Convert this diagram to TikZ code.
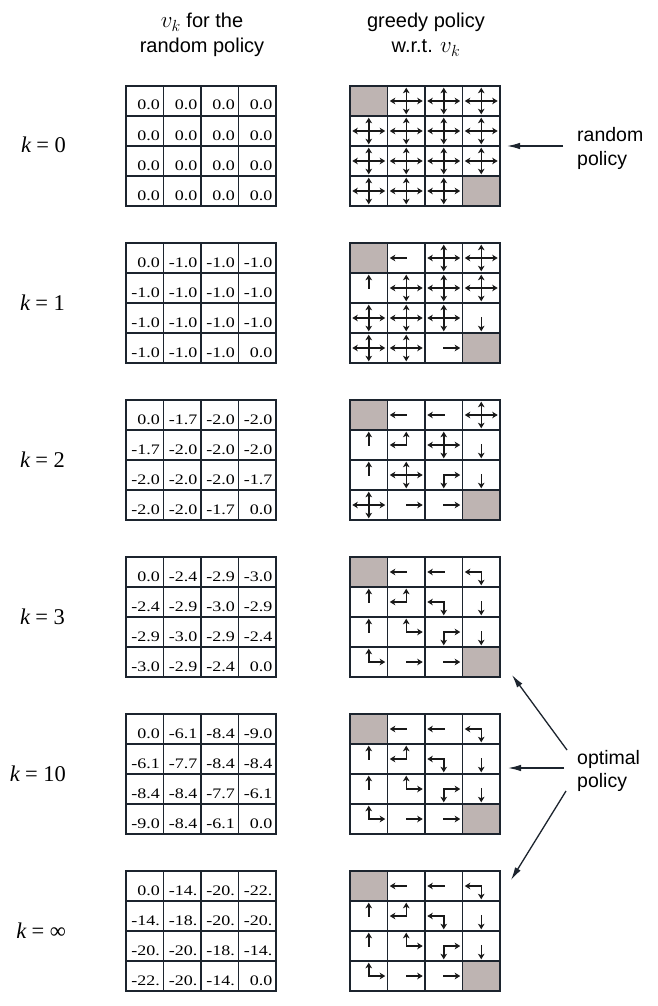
\documentclass[tikz,border=0pt]{standalone}
\usepackage{fix-cm}
\usepackage{fontspec}
\setmainfont{Liberation Serif}
\newfontfamily\numfont[FakeStretch=1.24]{Liberation Serif}
\newfontfamily\sansf{Liberation Sans}
\usetikzlibrary{arrows.meta}
\definecolor{gl}{RGB}{28,36,46}
\definecolor{term}{RGB}{190,180,178}
\newcommand\vk{{\fontsize{23}{26}\selectfont$v_k$}}
\tikzset{
  gridline/.style={draw=gl, line width=1.3pt},
  num/.style={font=\numfont\fontsize{14.5}{15}\selectfont, anchor=base east, inner sep=0pt, text=black},
  pa/.style={draw=black!90, line width=1.5pt, line cap=rect, -{Stealth[length=5.5pt,width=6.5pt,inset=1.5pt]}},
  bigarrow/.style={draw=gl, line width=1.3pt, -{Latex[length=13pt,width=6.5pt]}},
  hdr/.style={font=\sansf\fontsize{20}{24}\selectfont, anchor=base, inner sep=0pt},
  side/.style={font=\sansf\fontsize{19.5}{22}\selectfont, anchor=base west, inner sep=0pt},
  klab/.style={font=\fontsize{22.5}{26}\selectfont, anchor=base east, inner sep=0pt},
}
% value grid: #1 top, #2 name, #3-#6 rows
\newcommand\vgrid[6]{%
  \draw[gridline] (126,#1) rectangle ++(150,120);
  \foreach \i in {1,2,3}{%
    \draw[gridline] ({126+37.5*\i},#1) -- ++(0,120);
    \draw[gridline] (126,{#1+30*\i}) -- ++(150,0);}
  \foreach \rowv [count=\r from 0] in {{#3},{#4},{#5},{#6}}{%
    \foreach \v [count=\c] in \rowv {%
      \node[num] (#2-\r-\c) at ({122.5+37.5*\c},{#1+24+30*\r}) {\v};}}
}
% policy grid frame
\newcommand\pgrid[1]{%
  \fill[term] (350,#1) rectangle ++(37.5,30);
  \fill[term] (462.5,{#1+90}) rectangle ++(37.5,30);
  \draw[gridline] (350,#1) rectangle ++(150,120);
  \foreach \i in {1,2,3}{%
    \draw[gridline] ({350+37.5*\i},#1) -- ++(0,120);
    \draw[gridline] (350,{#1+30*\i}) -- ++(150,0);}
}
\newcommand\crosses[2]{%
  \foreach \r/\c in {#2}{%
    \pgfmathsetmacro\cx{368.75+37.5*\c}\pgfmathsetmacro\cy{#1+15+30*\r}%
    \draw[pa] (\cx,\cy) -- ++(-16.5,0);
    \draw[pa] (\cx,\cy) -- ++(16.5,0);
    \draw[pa] (\cx,\cy) -- ++(0,-13.3);
    \draw[pa] (\cx,\cy) -- ++(0,13.3);}
}
\newcommand\singles[2]{%
  \edef\plist{#2}%
  \foreach \r/\c/\dd in \plist{%
    \pgfmathsetmacro\cx{368.75+37.5*\c}\pgfmathsetmacro\cy{#1+15+30*\r}%
    \if\dd l\draw[pa] (\cx,\cy) -- ++(-16.5,0);\fi
    \if\dd r\draw[pa] (\cx,\cy) -- ++(16.5,0);\fi
    \if\dd u\draw[pa] (\cx,\cy) -- ++(0,-13.3);\fi
    \if\dd d\draw[pa] (\cx,\cy) -- ++(0,13.3);\fi}
}
\newcommand\optimal{0/1/l,0/2/l,0/3/l,0/3/d,1/0/u,1/1/l,1/1/u,1/2/l,1/2/d,1/3/d,2/0/u,2/1/u,2/1/r,2/2/d,2/2/r,2/3/d,3/0/u,3/0/r,3/1/r,3/2/r}
\begin{document}
\begin{tikzpicture}[x=1pt,y=-1pt]
\useasboundingbox (0,0) rectangle (658,1006);
\fill[white] (0,0) rectangle (658,1006);
% headers
\node[hdr] (h1a) at (202,28) {\vk{} for the};
\node[hdr] (h1b) at (202,53) {random policy};
\node[hdr] (h2a) at (426,28) {greedy policy};
\node[hdr] (h2b) at (426,53) {w.r.t. \vk};
% k labels
\node[klab] (k0) at (66,153) {\itshape k\upshape\hspace{.24em}=\hspace{.24em}0};
\node[klab] (k1) at (65,310) {\itshape k\upshape\hspace{.24em}=\hspace{.24em}1};
\node[klab] (k2) at (65,467) {\itshape k\upshape\hspace{.24em}=\hspace{.24em}2};
\node[klab] (k3) at (65,624) {\itshape k\upshape\hspace{.24em}=\hspace{.24em}3};
\node[klab] (k10) at (66,781) {\itshape k\upshape\hspace{.24em}=\hspace{.24em}10};
\node[klab] (kinf) at (66,938) {\itshape k\upshape\hspace{.24em}=\hspace{.24em}∞};
% value grids
\vgrid{86}{va}{0.0,0.0,0.0,0.0}{0.0,0.0,0.0,0.0}{0.0,0.0,0.0,0.0}{0.0,0.0,0.0,0.0}
\vgrid{243}{vb}{0.0,-1.0,-1.0,-1.0}{-1.0,-1.0,-1.0,-1.0}{-1.0,-1.0,-1.0,-1.0}{-1.0,-1.0,-1.0,0.0}
\vgrid{400}{vc}{0.0,-1.7,-2.0,-2.0}{-1.7,-2.0,-2.0,-2.0}{-2.0,-2.0,-2.0,-1.7}{-2.0,-2.0,-1.7,0.0}
\vgrid{557}{vd}{0.0,-2.4,-2.9,-3.0}{-2.4,-2.9,-3.0,-2.9}{-2.9,-3.0,-2.9,-2.4}{-3.0,-2.9,-2.4,0.0}
\vgrid{714}{ve}{0.0,-6.1,-8.4,-9.0}{-6.1,-7.7,-8.4,-8.4}{-8.4,-8.4,-7.7,-6.1}{-9.0,-8.4,-6.1,0.0}
\vgrid{871}{vf}{0.0,-14.,-20.,-22.}{-14.,-18.,-20.,-20.}{-20.,-20.,-18.,-14.}{-22.,-20.,-14.,0.0}
% policy grids
\pgrid{86}
\crosses{86}{0/1,0/2,0/3,1/0,1/1,1/2,1/3,2/0,2/1,2/2,2/3,3/0,3/1,3/2}
\pgrid{243}
\crosses{243}{0/2,0/3,1/1,1/2,1/3,2/0,2/1,2/2,3/0,3/1}
\singles{243}{0/1/l,1/0/u,2/3/d,3/2/r}
\pgrid{400}
\crosses{400}{0/3,1/2,2/1,3/0}
\singles{400}{0/1/l,0/2/l,1/0/u,1/1/l,1/1/u,1/3/d,2/0/u,2/2/d,2/2/r,2/3/d,3/1/r,3/2/r}
\pgrid{557}
\singles{557}{\optimal}
\pgrid{714}
\singles{714}{\optimal}
\pgrid{871}
\singles{871}{\optimal}
% side labels
\node[side] (rp1) at (577,142) {random};
\node[side] (rp2) at (577,165) {policy};
\coordinate (rps) at (563,146);
\coordinate (rpe) at (507,146);
\draw[bigarrow] (rps) -- (rpe);
\node[side] (op1) at (577,764) {optimal};
\node[side] (op2) at (577,787) {policy};
\coordinate (os1) at (567,750);
\coordinate (oe1) at (512,675);
\coordinate (os2) at (564,768);
\coordinate (oe2) at (508,768);
\coordinate (os3) at (566,791);
\coordinate (oe3) at (511,880);
\draw[bigarrow] (os1) -- (oe1);
\draw[bigarrow] (os2) -- (oe2);
\draw[bigarrow] (os3) -- (oe3);
\end{tikzpicture}
\end{document}
